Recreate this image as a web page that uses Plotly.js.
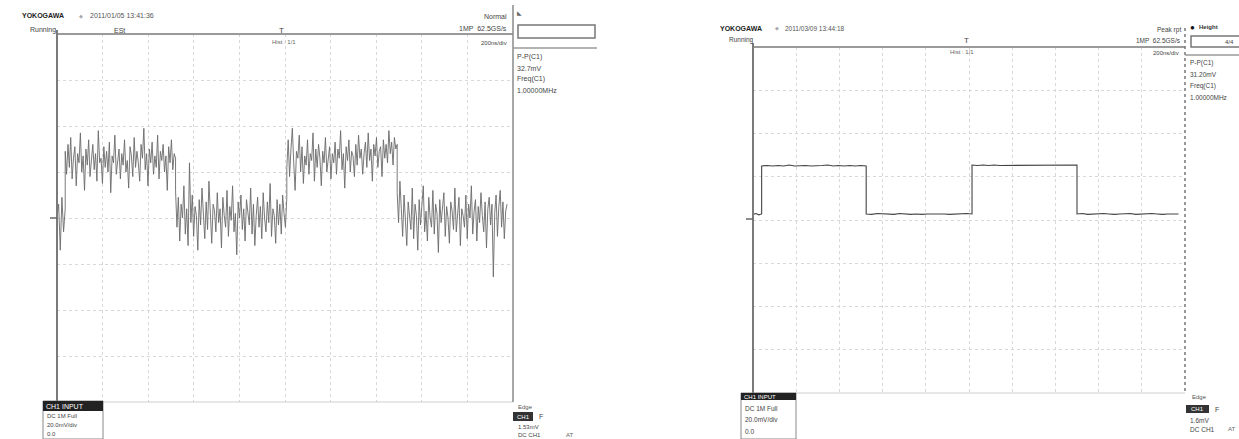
<!DOCTYPE html>
<html>
<head>
<meta charset="utf-8">
<script src="https://cdn.plot.ly/plotly-3.0.1.min.js"></script>
<style>html,body{margin:0;padding:0;background:#fff;}#chart{width:1239px;height:439px;}</style>
</head>
<body>
<div id="chart"></div>
<script>
// ---------- DATA (divisions; x 0..10, y -4..4) ----------
// Left capture: noisy square wave, edge times in divisions
const leftEdges = [0.0, 0.18, 2.6, 5.04, 7.46, 9.87];
const leftPre = [0.0, 0.3, -0.7, 0.45, -0.3, 0.2];
const leftHigh1 = [1.45,0.95,1.6,1.1,1.75,0.85,1.3,1.55,0.7,1.4,1.2,1.85,1.0,1.35,0.6,1.5,1.15,1.7,0.9,1.25,1.6,1.05,1.4,0.8,1.9,1.2,1.3,0.75,1.55,1.1,1.45,1.0,1.65,0.55,1.35,1.2,1.8,0.95,1.3,1.5,0.85,1.4,1.15,1.7,1.0,1.25,0.65,1.55,1.35,0.9,1.75,1.1,1.45,1.2,0.8,1.6,1.3,1.95,1.05,1.4,0.7,1.5,1.2,1.65,0.95,1.35,1.1,1.8,0.85,1.45,1.25,1.6,1.0,1.35,0.6,1.55,1.2,1.7,1.05,1.4,1.3];
const leftLow1 = [0.6,-0.2,0.45,-0.5,0.3,0.0,0.7,-0.35,0.2,-0.6,1.2,-0.1,0.5,-0.4,0.25,0.05,-0.7,0.4,-0.15,0.65,0.1,-0.45,0.35,-0.25,0.8,0.0,-0.55,0.3,0.15,-0.3,0.55,-0.1,0.2,-0.65,0.45,0.05,-0.2,0.6,-0.4,0.25,-0.05,0.7,-0.3,0.1,-0.8,0.35,0.0,0.5,-0.25,0.2,-0.5,0.4,0.1,-0.15,0.65,-0.35,0.3,-0.6,0.05,0.45,-0.2,0.25,-0.45,0.55,0.0,-0.3,0.35,-0.1,0.75,-0.4,0.2,0.05,-0.55,0.4,-0.15,0.3,-0.35,0.5,0.1,-0.2,0.45];
const leftHigh2 = [1.1,1.7,0.9,1.5,1.95,1.2,0.6,1.45,1.3,1.8,1.0,1.55,0.75,1.35,1.15,1.7,0.95,1.4,1.25,1.85,0.8,1.5,1.1,1.6,1.3,0.7,1.45,1.2,1.75,1.0,1.35,1.55,0.85,1.4,1.2,1.65,0.95,1.5,1.3,1.9,1.05,1.4,0.65,1.55,1.25,1.7,1.0,1.45,1.35,0.9,1.6,1.15,1.8,1.3,1.5,0.95,1.4,1.65,1.1,1.85,1.25,1.5,0.8,1.6,1.35,1.75,1.1,1.45,1.55,0.9,1.7,1.3,1.6,1.2,1.9,1.4,1.65,1.15,1.75,1.5,1.6];
const leftLow2 = [0.55,-0.1,0.8,0.2,-0.4,0.5,0.0,-0.6,0.35,0.1,-0.25,0.65,-0.45,0.3,0.05,-0.7,0.4,-0.15,0.25,0.7,-0.3,0.15,-0.5,0.45,0.0,-0.2,0.6,-0.35,0.3,0.1,-0.75,0.4,-0.1,0.2,0.55,-0.4,0.25,0.0,-0.55,0.35,0.15,-0.25,0.65,-0.3,0.1,0.45,-0.6,0.2,0.05,-0.2,0.5,-0.45,0.3,0.0,0.7,-0.35,0.15,0.4,-0.5,0.25,-0.1,0.55,0.05,-0.3,0.35,-0.65,0.2,0.45,-0.15,0.3,-1.28,0.1,0.5,-0.4,0.25,0.6,-0.2,0.35,-0.45,0.15,0.3];

// Right capture: clean square wave
const rightEdges = [0.0, 0.2, 2.62, 5.07, 7.5, 9.85];
const rightPre = [0.13, 0.15, 0.12, 0.14];
const rightHigh1 = [1.25,1.26,1.25,1.26,1.25,1.27,1.25,1.26,1.26,1.25,1.25,1.26,1.27,1.25,1.26,1.25,1.26,1.25,1.26,1.25];
const rightLow1 = [0.14,0.13,0.15,0.14,0.14,0.13,0.15,0.14,0.13,0.14,0.13,0.14,0.14,0.15,0.14,0.13,0.14,0.14,0.15,0.14];
const rightHigh2 = [1.27,1.26,1.27,1.26,1.27,1.26,1.26,1.27,1.26,1.27,1.26,1.26,1.27,1.26,1.27,1.26,1.26,1.27,1.26,1.27];
const rightLow2 = [0.14,0.15,0.13,0.14,0.14,0.15,0.14,0.13,0.14,0.14,0.15,0.13,0.14,0.14,0.15,0.14,0.13,0.14,0.14,0.14];

// Readout texts
const leftHeader = {brand:"YOKOGAWA", date:"2011/01/05 13:41:36", state:"Running", mode:"ESt", hist:"Hist : 1/1",
  trig:"Normal", smpl:"1MP  62.5GS/s", tdiv:"200ns/div",
  meas:["P-P(C1)","32.7mV","Freq(C1)","1.00000MHz"],
  ch:["CH1 INPUT","DC 1M Full","20.0mV/div","0.0"], edge:["Edge","CH1","F","1.53mV","DC CH1","AT"]};
const rightHeader = {brand:"YOKOGAWA", date:"2011/03/09 13:44:18", state:"Running", hist:"Hist : 1/1",
  trig:"Peak rpt", smpl:"1MP  62.5GS/s", tdiv:"200ns/div", height:"Height", box:"4/4",
  meas:["P-P(C1)","31.20mV","Freq(C1)","1.00000MHz"],
  ch:["CH1 INPUT","DC 1M Full","20.0mV/div","0.0"], edge:["Edge","CH1","F","1.6mV","DC CH1","AT"]};

// ---------- BUILD ----------
function buildTrace(edges, segs){
  const xs=[], ys=[];
  segs.forEach((seg,i)=>{
    const a=edges[i], b=edges[i+1], n=seg.length;
    seg.forEach((v,j)=>{ xs.push(a+(b-a)*j/(n-1)); ys.push(v); });
  });
  return {xs, ys};
}
const L = buildTrace(leftEdges,[leftPre,leftHigh1,leftLow1,leftHigh2,leftLow2]);
const R = buildTrace(rightEdges,[rightPre,rightHigh1,rightLow1,rightHigh2,rightLow2]);

const W=1239, H=439;
const px = x => x/W, py = y => 1-y/H;

const data = [
  {x:L.xs, y:L.ys, xaxis:'x', yaxis:'y', mode:'lines', line:{color:'#6a6a6a', width:0.9}, hoverinfo:'skip', showlegend:false},
  {x:R.xs, y:R.ys, xaxis:'x2', yaxis:'y2', mode:'lines', line:{color:'#444', width:1.1}, hoverinfo:'skip', showlegend:false}
];

const axBase = {range:[0,10], dtick:1, tick0:0, showgrid:true, gridcolor:'#d8d8d8', griddash:'dot', gridwidth:1,
  zeroline:false, showline:false, showticklabels:false, ticks:'', fixedrange:true};
const ayBase = Object.assign({}, axBase, {range:[-4,4]});

const shapes=[];
function ln(x0,y0,x1,y1,color,width,dash){
  shapes.push({type:'line', xref:'paper', yref:'paper', x0:px(x0), y0:py(y0), x1:px(x1), y1:py(y1),
    line:{color:color, width:width, dash:dash||'solid'}});
}
function rect(x0,y0,x1,y1,fill,lineColor,lw){
  shapes.push({type:'rect', xref:'paper', yref:'paper', x0:px(x0), y0:py(y0), x1:px(x1), y1:py(y1),
    fillcolor:fill, line:{color:lineColor||fill, width:lw===undefined?1:lw}});
}
const ann=[];
function txt(x,y,t,opt){
  opt=opt||{};
  ann.push({xref:'paper', yref:'paper', x:px(x), y:py(y), text:t, showarrow:false,
    xanchor:opt.xa||'left', yanchor:'middle',
    font:{family:'Liberation Sans, Arial, sans-serif', size:opt.size||7, color:opt.color||'#555'},
    bgcolor:opt.bg||'rgba(0,0,0,0)'});
}

// ---- Left capture frame ----
ln(57,402,513,402,'#cfcfcf',1);
ln(57,34,513,34,'#9a9a9a',2);
ln(57,30,57,404,'#7a7a7a',2);
ln(513,5,513,402,'#8a8a8a',1.5);
ln(513,48,597,48,'#9a9a9a',1.5);
rect(518,25,595,38,'rgba(0,0,0,0)','#777',1.5);
ln(50,218,57,218,'#666',1.5);
rect(43,401,103,439,'#ffffff','#888',1);
rect(43,401,103,411,'#222','#222',0);
rect(513,412,533,421,'#333','#333',0);

txt(20,16,'<b>'+leftHeader.brand+'</b>',{size:7,color:'#222'});
txt(77,16,'◆',{size:5,color:'#aaa'});
txt(88,16,leftHeader.date,{size:7});
txt(28,30,leftHeader.state,{size:7,color:'#444'});
txt(112,30,leftHeader.mode,{size:7,color:'#444'});
txt(281,30,'T',{size:8,color:'#444',xa:'center'});
txt(270,42,leftHeader.hist,{size:6,color:'#666'});
txt(509,17,leftHeader.trig,{size:7,xa:'right',color:'#444'});
txt(509,28,leftHeader.smpl,{size:7,xa:'right',color:'#444'});
txt(509,43,leftHeader.tdiv,{size:6,xa:'right',color:'#444'});
txt(515,13,'◣',{size:6,color:'#666'});
leftHeader.meas.forEach((t,i)=>txt(515,57+i*11,t,{size:7,color:'#444'}));
txt(44,406,leftHeader.ch[0],{size:7,color:'#fff'});
leftHeader.ch.slice(1).forEach((t,i)=>txt(45,415.5+i*9,t,{size:6,color:'#444'}));
txt(516,407,leftHeader.edge[0],{size:6,color:'#555'});
txt(523,416.5,leftHeader.edge[1],{size:6,color:'#fff',xa:'center'});
txt(537,416,leftHeader.edge[2],{size:7,color:'#444'});
txt(516,426.5,leftHeader.edge[3],{size:6,color:'#444'});
txt(516,434.5,leftHeader.edge[4],{size:6,color:'#444'});
txt(564,434.5,leftHeader.edge[5],{size:6,color:'#666'});

// ---- Right capture frame ----
ln(753,393,1185,393,'#cfcfcf',1);
ln(753,47,1185,47,'#9a9a9a',2.2);
ln(753,43,753,394,'#7a7a7a',2);
ln(1185,28,1185,393,'#777',1.5,'dot');
ln(1185,55,1239,55,'#9a9a9a',1.5);
rect(1191,36,1240,47,'rgba(0,0,0,0)','#777',1.5);
ln(746,219,753,219,'#666',1.5);
rect(741,393,796,439,'#ffffff','#888',1);
rect(741,393,796,400,'#222','#222',0);
rect(1186,405,1209,413,'#333','#333',0);

txt(718,28,'<b>'+rightHeader.brand+'</b>',{size:7,color:'#222'});
txt(773,28,'◆',{size:5,color:'#aaa'});
txt(783,28,rightHeader.date,{size:6.5});
txt(727,40,rightHeader.state,{size:6.5,color:'#444'});
txt(966,40,'T',{size:8,color:'#444',xa:'center'});
txt(948,52,rightHeader.hist,{size:6,color:'#666'});
txt(1183,30,rightHeader.trig,{size:6.5,xa:'right',color:'#444'});
txt(1183,40,rightHeader.smpl,{size:6.5,xa:'right',color:'#444'});
txt(1181,53,rightHeader.tdiv,{size:6,xa:'right',color:'#444'});
txt(1188,27,'●',{size:8,color:'#111'});
txt(1197,27,'<b>'+rightHeader.height+'</b>',{size:6,color:'#333'});
txt(1236,42,rightHeader.box,{size:6,xa:'right',color:'#444'});
rightHeader.meas.forEach((t,i)=>txt(1188,63+i*11.5,t,{size:6.5,color:'#444'}));
txt(742,397,rightHeader.ch[0],{size:6,color:'#fff'});
rightHeader.ch.slice(1).forEach((t,i)=>txt(743,408+i*11.5,t,{size:6.5,color:'#444'}));
txt(1190,397,rightHeader.edge[0],{size:6,color:'#555'});
txt(1197.5,409,rightHeader.edge[1],{size:6,color:'#fff',xa:'center'});
txt(1213,409,rightHeader.edge[2],{size:7,color:'#444'});
txt(1188,420,rightHeader.edge[3],{size:6.5,color:'#444'});
txt(1188,429,rightHeader.edge[4],{size:6.5,color:'#444'});
txt(1226,429,rightHeader.edge[5],{size:6,color:'#666'});

const layout = {
  width:W, height:H, margin:{l:0,r:0,t:0,b:0}, paper_bgcolor:'#fff', plot_bgcolor:'rgba(0,0,0,0)',
  showlegend:false,
  xaxis:Object.assign({}, axBase, {domain:[px(57),px(513)], anchor:'y'}),
  yaxis:Object.assign({}, ayBase, {domain:[py(402),py(34)], anchor:'x'}),
  xaxis2:Object.assign({}, axBase, {domain:[px(753),px(1185)], anchor:'y2'}),
  yaxis2:Object.assign({}, ayBase, {domain:[py(393),py(47)], anchor:'x2'}),
  shapes:shapes, annotations:ann
};
Plotly.newPlot('chart', data, layout, {displayModeBar:false, staticPlot:true});
</script>
</body>
</html>
